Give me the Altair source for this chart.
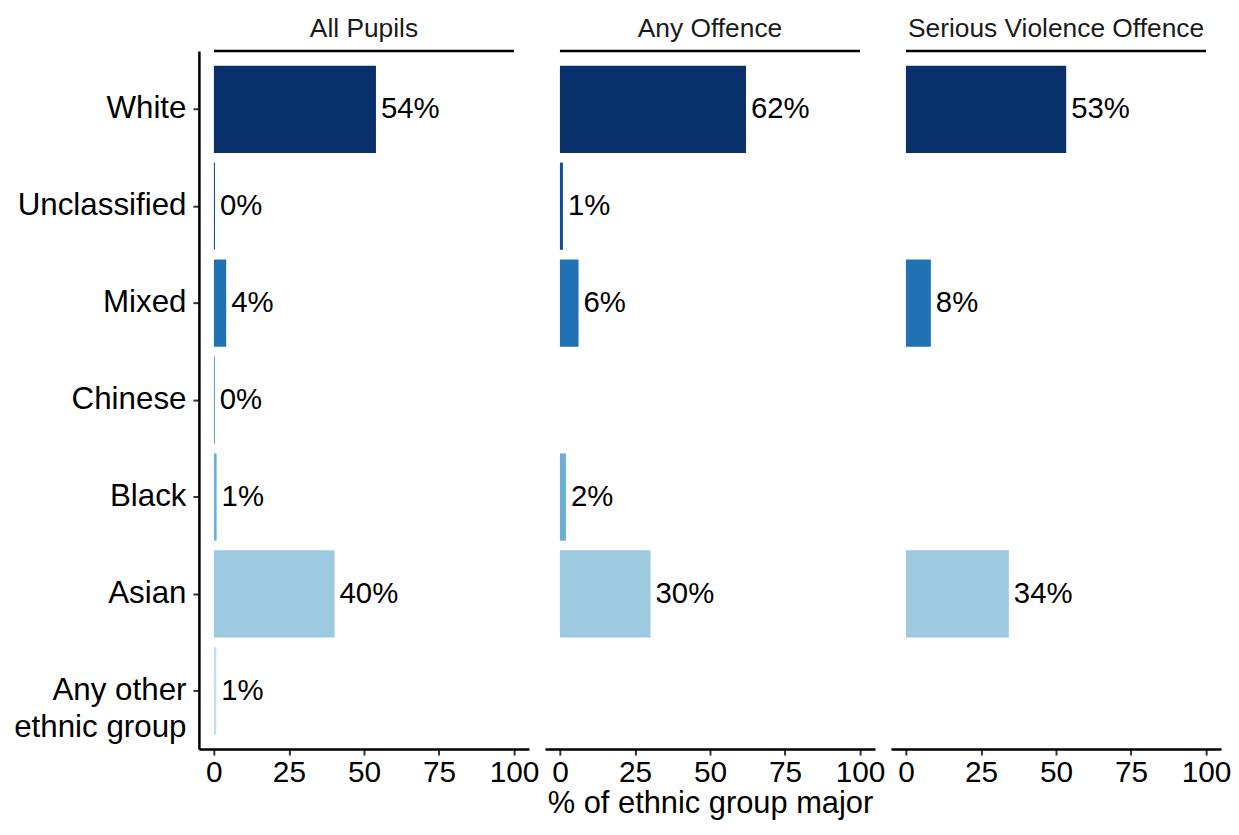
import altair as alt
import pandas as pd

categories = ["White", "Unclassified", "Mixed", "Chinese", "Black", "Asian", "Any other ethnic group"]
panels = ["All Pupils", "Any Offence", "Serious Violence Offence"]
colors = ["#08306B", "#08519C", "#2171B5", "#4292C6", "#6BAED6", "#9ECAE1", "#C6DBEF"]

all_pupils = [54.0, 0.35, 4.1, 0.3, 0.9, 40.2, 0.8]
any_offence = [62.0, 1.0, 6.2, None, 2.0, 30.2, None]
serious_violence = [53.4, None, 8.3, None, None, 34.3, None]

x_ticks = [0, 25, 50, 75, 100]

rows = []
for panel, vals in zip(panels, [all_pupils, any_offence, serious_violence]):
    for cat, v in zip(categories, vals):
        if v is not None:
            rows.append({"panel": panel, "group": cat, "value": v,
                         "label": f"{round(v):.0f}%"})
df = pd.DataFrame(rows)

FONT = "Liberation Sans"
W, H = 332, 702


def panel_chart(i, name):
    sub = df[df["panel"] == name]
    if i == 0:
        y_axis = alt.Axis(
            labelExpr="datum.label == 'Any other ethnic group' ? ['Any other', 'ethnic group'] : datum.label",
            labelLineHeight=37, labelFontSize=31.5, labelPadding=7)
    else:
        y_axis = None
    y_enc = alt.Y("group:N", sort=categories, title=None,
                  scale=alt.Scale(domain=categories, paddingInner=0.1, paddingOuter=0.15),
                  axis=y_axis)
    x_title = "% of ethnic group major" if i == 1 else None
    x_enc = alt.X("value:Q", title=x_title,
                  scale=alt.Scale(domain=[-5, 105], nice=False, zero=False),
                  axis=alt.Axis(values=x_ticks, format="d"))
    base = alt.Chart(sub)
    bars = base.mark_bar().encode(
        x=x_enc,
        x2=alt.datum(0),
        y=y_enc,
        color=alt.Color("group:N", scale=alt.Scale(domain=categories, range=colors), legend=None),
    )
    text = base.mark_text(align="left", baseline="middle", dx=5, fontSize=29.5,
                          font=FONT, color="black").encode(
        x="value:Q",
        y=alt.Y("group:N", sort=categories),
        text="label:N",
    )
    strip_df = pd.DataFrame({"strip": [name]})
    strip_line = alt.Chart(strip_df).mark_rule(color="black", strokeWidth=2.5).encode(
        x=alt.datum(0),
        x2=alt.datum(100),
        y=alt.value(0),
    )
    strip_text = alt.Chart(strip_df).mark_text(
        align="center", baseline="alphabetic", fontSize=26.5, font=FONT, color="#1a1a1a"
    ).encode(
        x=alt.datum(50),
        y=alt.value(-14),
        text="strip:N",
    )
    return alt.layer(bars, text, strip_line, strip_text).properties(width=W, height=H)


chart = alt.hconcat(*[panel_chart(i, p) for i, p in enumerate(panels)], spacing=6).resolve_scale(
    y="shared", x="independent"
).properties(
    padding={"left": 5, "top": 6, "right": 0, "bottom": 3}
).configure_view(stroke=None).configure_axis(
    domainColor="black", domainWidth=2.5,
    tickColor="#333333", tickWidth=2, tickSize=6,
    labelFont=FONT, labelColor="black", labelFontSize=30,
    titleFont=FONT, titleColor="black", titleFontSize=31, titleFontWeight="normal",
    grid=False, labelPadding=3, titlePadding=1,
)

chart.save("out.html", embed_options={"renderer": "svg", "actions": False})
